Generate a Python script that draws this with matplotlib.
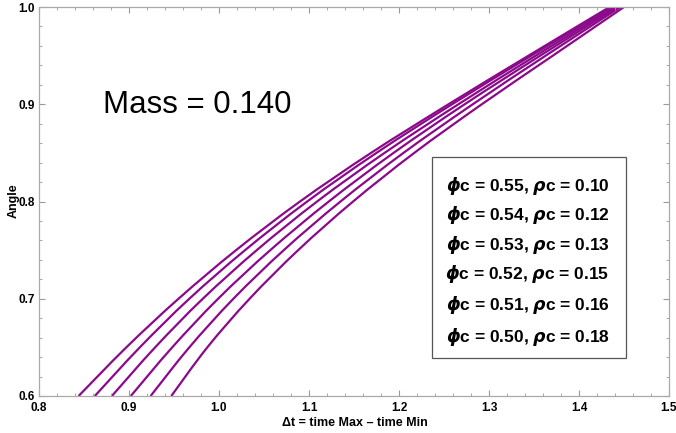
import matplotlib
matplotlib.use("Agg")
import matplotlib.pyplot as plt
from matplotlib.patches import Rectangle, PathPatch
from matplotlib.path import Path
from matplotlib.ticker import MultipleLocator

plt.rcParams['font.family'] = ['Liberation Sans', 'DejaVu Sans']
plt.rcParams['mathtext.fontset'] = 'custom'
plt.rcParams['mathtext.it'] = 'DejaVu Sans:italic:bold'
plt.rcParams['mathtext.rm'] = 'Liberation Sans:bold'

angle = [0.60, 0.65, 0.70, 0.75, 0.80, 0.85, 0.90, 0.95, 1.00]
dt_055 = [0.844, 0.897, 0.955, 1.019, 1.090, 1.169, 1.255, 1.344, 1.434]
dt_054 = [0.862, 0.912, 0.967, 1.029, 1.098, 1.175, 1.259, 1.347, 1.437]
dt_053 = [0.881, 0.929, 0.982, 1.042, 1.109, 1.184, 1.266, 1.352, 1.440]
dt_052 = [0.902, 0.948, 0.999, 1.057, 1.122, 1.194, 1.273, 1.357, 1.443]
dt_051 = [0.924, 0.967, 1.016, 1.072, 1.135, 1.205, 1.282, 1.363, 1.446]
dt_050 = [0.947, 0.987, 1.034, 1.088, 1.149, 1.217, 1.292, 1.371, 1.450]
series = [dt_055, dt_054, dt_053, dt_052, dt_051, dt_050]
labels = [r"$\phi$c = 0.55, $\rho$c = 0.10",
          r"$\phi$c = 0.54, $\rho$c = 0.12",
          r"$\phi$c = 0.53, $\rho$c = 0.13",
          r"$\phi$c = 0.52, $\rho$c = 0.15",
          r"$\phi$c = 0.51, $\rho$c = 0.16",
          r"$\phi$c = 0.50, $\rho$c = 0.18"]
xticks = [0.8, 0.9, 1.0, 1.1, 1.2, 1.3, 1.4, 1.5]
yticks = [0.6, 0.7, 0.8, 0.9, 1.0]


def smooth_path(xs, ys):
    # Catmull-Rom through the read points, drawn as cubic Bezier segments
    n = len(xs)
    verts = [(xs[0], ys[0])]
    codes = [Path.MOVETO]
    for i in range(n - 1):
        x0, y0 = (xs[i - 1], ys[i - 1]) if i > 0 else (xs[i], ys[i])
        x1, y1 = xs[i], ys[i]
        x2, y2 = xs[i + 1], ys[i + 1]
        x3, y3 = (xs[i + 2], ys[i + 2]) if i + 2 < n else (x2, y2)
        c1 = (x1 + (x2 - x0) / 6, y1 + (y2 - y0) / 6)
        c2 = (x2 - (x3 - x1) / 6, y2 - (y3 - y1) / 6)
        verts += [c1, c2, (x2, y2)]
        codes += [Path.CURVE4] * 3
    return Path(verts, codes)


fig = plt.figure(figsize=(6.76, 4.33), dpi=100)
ax = fig.add_axes([39/676, 1-396/433, 630/676, 389/433])
for s in series:
    ax.add_patch(PathPatch(smooth_path(s, angle), facecolor='none',
                           edgecolor='#8a0a8a', lw=1.6, clip_on=True))

ax.set_xlim(0.8, 1.5)
ax.set_ylim(0.6, 1.0)
ax.set_xticks(xticks)
ax.set_yticks(yticks)
ax.set_xticklabels([f"{v:.1f}" for v in xticks], fontweight='bold', fontsize=8.5)
ax.set_yticklabels([f"{v:.1f}" for v in yticks], fontweight='bold', fontsize=8.5)
ax.xaxis.set_minor_locator(MultipleLocator(0.02))
ax.yaxis.set_minor_locator(MultipleLocator(0.02))
ax.tick_params(which='both', direction='in', top=True, right=True, color='#999999')
ax.tick_params(which='major', length=4, width=0.8)
ax.tick_params(which='minor', length=2, width=0.6)
ax.tick_params(axis='x', pad=4)
ax.tick_params(axis='y', pad=3)
ax.tick_params(top=True, right=True, labeltop=False, labelright=False)
for sp in ax.spines.values():
    sp.set_color('#aaaaaa')
    sp.set_linewidth(0.9)

ax.set_xlabel("Δt = time Max – time Min", fontweight='bold', fontsize=9)
ax.set_ylabel("Angle", fontweight='bold', fontsize=9)
ax.xaxis.set_label_coords((355-39)/630, (396-423)/389)
ax.yaxis.set_label_coords((14-39)/630, (396-201)/389)
ax.xaxis.label.set_va('center')
ax.yaxis.label.set_va('center')

ax.text((103-39)/630, (396-105)/389, "Mass = 0.140", transform=ax.transAxes,
        fontsize=22.5, va='center', ha='left', color='black')

ax.add_patch(Rectangle((0.6238, 0.0977), 0.9317-0.6238, 0.6144-0.0977,
                       transform=ax.transAxes, fill=False, edgecolor='#555555', lw=0.9))
ypix = [186, 215, 245, 274, 305, 337]
for lab, yp in zip(labels, ypix):
    ax.text(0.7754, (396-yp)/389, lab, transform=ax.transAxes, ha='center', va='center',
            fontsize=12.5, fontweight='bold')

fig.savefig("out.png", dpi=100)
